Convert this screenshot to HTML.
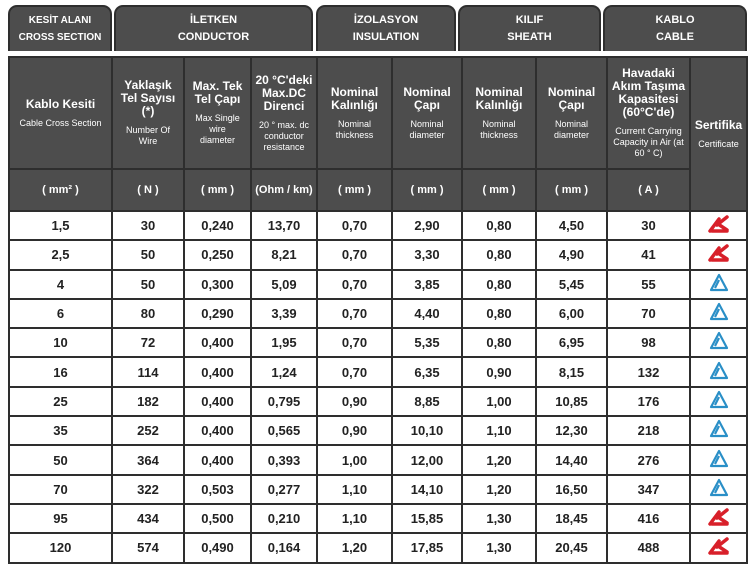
<!DOCTYPE html>
<html><head><meta charset="utf-8"><style>
body{margin:0;background:#fff;width:751px;height:564px;overflow:hidden;font-family:"Liberation Sans",Arial,sans-serif}
.g{position:absolute;top:5px;height:46px;background:#4d4d4d;border:2px solid #2e2e2e;border-bottom:none;border-radius:9px 9px 0 0;color:#fff;font-size:11px;font-weight:bold;text-align:center;display:flex;align-items:center;justify-content:center;line-height:17px;box-sizing:border-box}
table{position:absolute;left:8px;top:56px;border-collapse:collapse;table-layout:fixed}
td{border:2px solid #2e2e2e;text-align:center;padding:0;font-size:13px;font-weight:bold;color:#222;height:27.3px}
th{background:#4d4d4d;color:#fff;border:2px solid #2e2e2e;font-size:12px;font-weight:bold;padding:0 6px;line-height:13px;vertical-align:middle}
th small{display:block;font-weight:normal;font-size:9px;line-height:11px;margin-top:7px}
th.w{padding:0 1px}
tr.u th{height:40px;font-size:11px;padding:0}
</style></head><body>
<div class="g" style="left:8px;width:104px;font-size:10px">KESİT ALANI<br>CROSS SECTION</div>
<div class="g" style="left:114px;width:199px">İLETKEN<br>CONDUCTOR</div>
<div class="g" style="left:316px;width:140px">İZOLASYON<br>INSULATION</div>
<div class="g" style="left:458px;width:143px">KILIF<br>SHEATH</div>
<div class="g" style="left:603px;width:144px">KABLO<br>CABLE</div>
<table>
<colgroup><col style="width:103px"><col style="width:72px"><col style="width:67px"><col style="width:66px"><col style="width:75px"><col style="width:70px"><col style="width:74px"><col style="width:71px"><col style="width:83px"><col style="width:57px"></colgroup>
<tr style="height:112px"><th class="w">Kablo Kesiti<small>Cable Cross Section</small></th><th>Yaklaşık Tel Sayısı (*)<small>Number Of Wire</small></th><th>Max. Tek Tel Çapı<small>Max Single wire diameter</small></th><th style="padding:0 1px">20 °C'deki Max.DC Direnci<small style="padding:0 5px">20 ° max. dc conductor resistance</small></th><th>Nominal Kalınlığı<small>Nominal thickness</small></th><th>Nominal Çapı<small>Nominal diameter</small></th><th>Nominal Kalınlığı<small>Nominal thickness</small></th><th>Nominal Çapı<small>Nominal diameter</small></th><th style="padding:0 3px">Havadaki Akım Taşıma Kapasitesi (60°C'de)<small>Current Carrying Capacity in Air (at 60 ° C)</small></th><th rowspan="2" class="w">Sertifika<small>Certificate</small></th></tr>
<tr class="u"><th>( mm² )</th><th>( N )</th><th>( mm )</th><th>(Ohm / km)</th><th>( mm )</th><th>( mm )</th><th>( mm )</th><th>( mm )</th><th>( A )</th></tr>
<tr><td>1,5</td><td>30</td><td>0,240</td><td>13,70</td><td>0,70</td><td>2,90</td><td>0,80</td><td>4,50</td><td>30</td><td class="r"></td></tr>
<tr><td>2,5</td><td>50</td><td>0,250</td><td>8,21</td><td>0,70</td><td>3,30</td><td>0,80</td><td>4,90</td><td>41</td><td class="r"></td></tr>
<tr><td>4</td><td>50</td><td>0,300</td><td>5,09</td><td>0,70</td><td>3,85</td><td>0,80</td><td>5,45</td><td>55</td><td class="b"></td></tr>
<tr><td>6</td><td>80</td><td>0,290</td><td>3,39</td><td>0,70</td><td>4,40</td><td>0,80</td><td>6,00</td><td>70</td><td class="b"></td></tr>
<tr><td>10</td><td>72</td><td>0,400</td><td>1,95</td><td>0,70</td><td>5,35</td><td>0,80</td><td>6,95</td><td>98</td><td class="b"></td></tr>
<tr><td>16</td><td>114</td><td>0,400</td><td>1,24</td><td>0,70</td><td>6,35</td><td>0,90</td><td>8,15</td><td>132</td><td class="b"></td></tr>
<tr><td>25</td><td>182</td><td>0,400</td><td>0,795</td><td>0,90</td><td>8,85</td><td>1,00</td><td>10,85</td><td>176</td><td class="b"></td></tr>
<tr><td>35</td><td>252</td><td>0,400</td><td>0,565</td><td>0,90</td><td>10,10</td><td>1,10</td><td>12,30</td><td>218</td><td class="b"></td></tr>
<tr><td>50</td><td>364</td><td>0,400</td><td>0,393</td><td>1,00</td><td>12,00</td><td>1,20</td><td>14,40</td><td>276</td><td class="b"></td></tr>
<tr><td>70</td><td>322</td><td>0,503</td><td>0,277</td><td>1,10</td><td>14,10</td><td>1,20</td><td>16,50</td><td>347</td><td class="b"></td></tr>
<tr><td>95</td><td>434</td><td>0,500</td><td>0,210</td><td>1,10</td><td>15,85</td><td>1,30</td><td>18,45</td><td>416</td><td class="r"></td></tr>
<tr><td>120</td><td>574</td><td>0,490</td><td>0,164</td><td>1,20</td><td>17,85</td><td>1,30</td><td>20,45</td><td>488</td><td class="r"></td></tr>
</table>
<script>
document.querySelectorAll('td.r').forEach(function(c){c.innerHTML='<svg width="22" height="18" viewBox="0 0 22 18"><path d="M2 16 L11 4 M4 16 L19 16 M9 10 L19 2 M10 9 L19 15" stroke="#d8202a" stroke-width="3.5" fill="none" stroke-linecap="round"/></svg>';});
document.querySelectorAll('td.b').forEach(function(c){c.innerHTML='<svg width="22" height="20" viewBox="0 0 22 20"><path d="M11 2 L3 17 L19 17 Z M11 7 L7 15" stroke="#2a8fc7" stroke-width="2.2" fill="none" stroke-linejoin="round"/></svg>';});
</script>
</body></html>
